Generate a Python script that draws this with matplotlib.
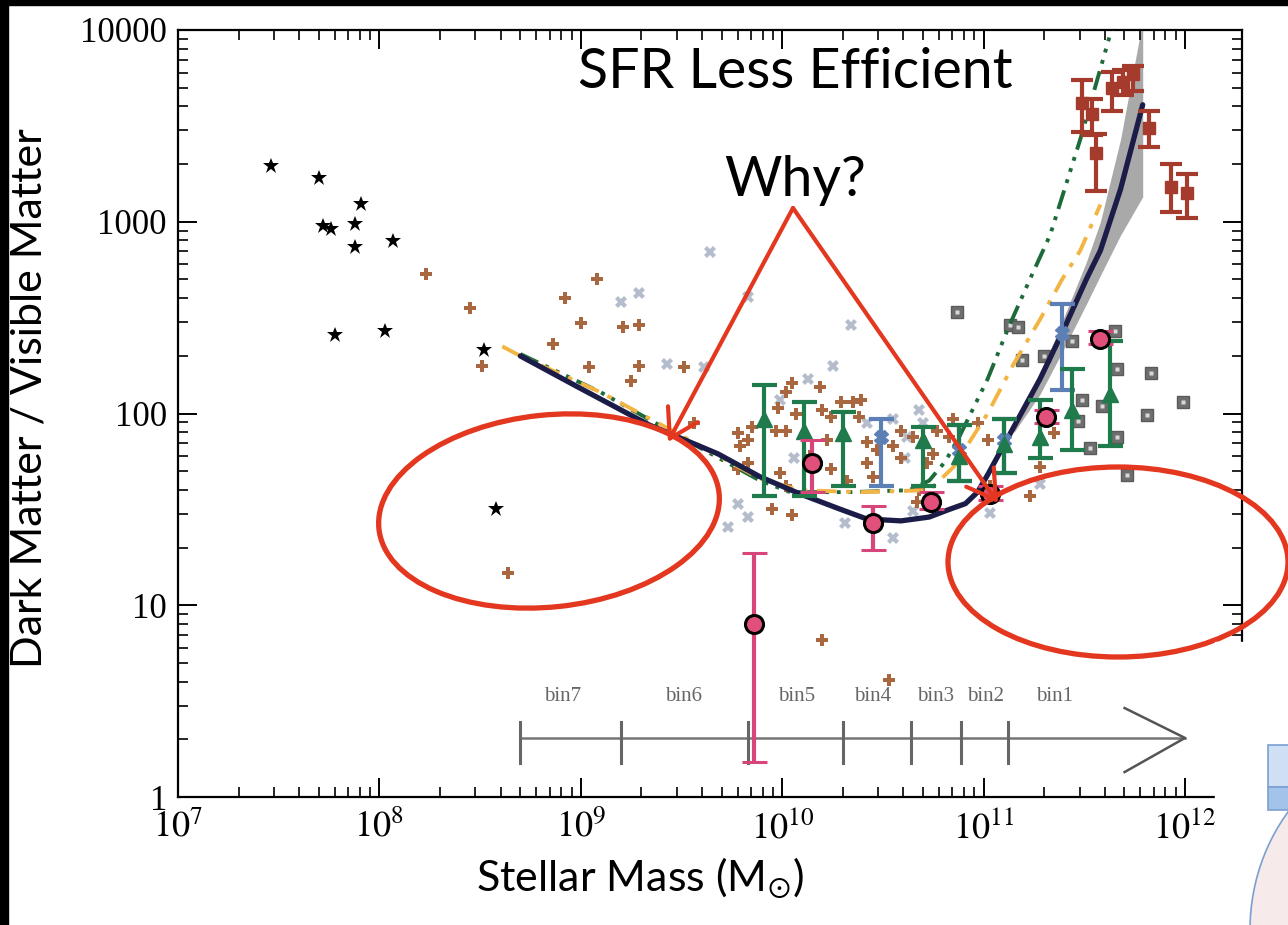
import numpy as np
import matplotlib.pyplot as plt
from matplotlib.patches import Ellipse, Rectangle, FancyArrowPatch
from matplotlib.transforms import Affine2D
from matplotlib.ticker import FixedLocator, LogLocator, FuncFormatter, NullFormatter

W, H = 1288, 925
plt.rcParams['mathtext.fontset'] = 'stix'

# all values are log10(stellar mass / Msun) and log10(dark / visible)
dwarf_m = [7.46, 7.70, 7.72, 7.76, 7.88, 7.91, 7.88, 8.07, 7.78, 8.03, 8.52, 8.58]
dwarf_r = [3.29, 3.23, 2.98, 2.96, 2.99, 3.09, 2.87, 2.90, 2.41, 2.43, 2.33, 1.50]

spiral_m = [8.23, 8.45, 8.51, 8.64, 8.86, 8.92, 9.00, 9.08, 9.21, 9.29, 9.04, 9.29, 9.25,
            9.51, 9.56, 10.20, 10.53, 9.78, 9.79, 9.83, 9.85, 9.83, 9.78, 9.97, 10.02,
            9.98, 10.02, 10.05, 10.07, 10.19, 10.20, 10.24, 10.29, 10.35, 10.38, 10.39,
            10.42, 10.47, 10.42, 10.45, 10.55, 10.59, 10.65, 10.75, 10.77, 10.85, 10.83,
            10.97, 11.02, 9.99, 10.02, 9.95, 10.05, 10.22, 10.24, 10.32, 10.68, 10.72,
            10.59, 10.67, 11.28, 11.35, 11.03, 11.23, 10.14]
spiral_r = [2.73, 2.55, 2.25, 1.17, 2.36, 2.60, 2.47, 2.70, 2.45, 2.46, 2.24, 2.25, 2.17,
            2.24, 1.95, 0.82, 0.61, 1.90, 1.83, 1.86, 1.93, 1.74, 1.71, 1.91, 1.91,
            2.03, 2.11, 2.16, 2.00, 2.14, 2.02, 1.98, 2.06, 2.06, 1.98, 2.07,
            1.85, 1.81, 1.74, 1.67, 1.83, 1.77, 1.88, 1.79, 1.91, 1.97, 1.88,
            1.95, 1.86, 1.69, 1.62, 1.50, 1.47, 1.86, 1.71, 1.65, 1.60, 1.74,
            1.91, 1.54, 1.72, 1.90, 1.62, 1.57, 1.78]

lens_m = [9.20, 9.29, 9.64, 9.43, 9.61, 9.83, 10.34, 10.25, 10.13, 9.99, 9.78, 9.83, 9.73,
          10.06, 10.55, 10.42, 10.68, 10.70, 10.55, 10.31, 10.65, 10.62, 10.61, 11.03, 11.28]
lens_r = [2.58, 2.63, 2.84, 2.26, 2.24, 2.61, 2.46, 2.25, 2.18, 2.07, 1.53, 1.46, 1.41,
          1.77, 1.35, 1.95, 2.02, 1.95, 1.97, 1.43, 1.49, 1.88, 1.77, 1.48, 1.63]

group_m = [10.87, 11.13, 11.17, 11.19, 11.30, 11.44, 11.65, 11.66, 11.83, 11.99, 11.81,
           11.59, 11.49, 11.47, 11.66, 11.53, 11.71]
group_r = [2.53, 2.46, 2.45, 2.28, 2.30, 2.38, 2.43, 2.23, 2.21, 2.06, 1.99,
           2.04, 2.07, 1.96, 1.88, 1.82, 1.68]

# stacked bins: value, upper, lower
wl_m = [9.91, 10.11, 10.30, 10.70, 10.88, 11.10, 11.28, 11.44, 11.63]
wl_r = [1.97, 1.91, 1.90, 1.86, 1.78, 1.84, 1.88, 2.02, 2.10]
wl_hi = [2.15, 2.06, 2.01, 1.93, 1.94, 1.97, 2.07, 2.23, 2.38]
wl_lo = [1.57, 1.57, 1.62, 1.62, 1.65, 1.69, 1.77, 1.81, 1.83]

sat_m = [10.49, 10.88, 11.10, 11.39]
sat_r = [1.88, 1.81, 1.86, 2.42]
sat_hi = [1.97, 1.94, 1.97, 2.57]
sat_lo = [1.62, 1.65, 1.69, 2.12]

bin_m = [10.15, 10.45, 10.74, 9.86, 11.03, 11.31, 11.58]
bin_r = [1.74, 1.43, 1.54, 0.90, 1.58, 1.98, 2.39]
bin_hi = [1.86, 1.52, 1.59, 1.27, 1.62, 2.02, 2.43]
bin_lo = [1.59, 1.29, 1.50, 0.18, 1.55, 1.95, 2.36]

cluster_m = [11.49, 11.54, 11.56, 11.64, 11.69, 11.74, 11.82, 11.93, 12.01]
cluster_r = [3.62, 3.56, 3.36, 3.70, 3.73, 3.77, 3.49, 3.18, 3.15]
cluster_hi = [3.74, 3.64, 3.46, 3.78, 3.79, 3.81, 3.58, 3.30, 3.25]
cluster_lo = [3.47, 3.45, 3.16, 3.58, 3.66, 3.68, 3.39, 3.05, 3.02]

# model curves
model_m = [8.70, 9.00, 9.34, 9.68, 9.89, 10.09, 10.29, 10.42, 10.59, 10.73, 10.83, 10.91,
           10.97, 11.02, 11.15, 11.28, 11.39, 11.51, 11.58, 11.68, 11.79]
model_r = [2.30, 2.13, 1.94, 1.79, 1.67, 1.58, 1.50, 1.45, 1.44, 1.46, 1.50, 1.53,
           1.59, 1.68, 1.93, 2.18, 2.42, 2.70, 2.85, 3.17, 3.61]
band_m = [11.15, 11.28, 11.39, 11.51, 11.58, 11.68, 11.79]
band_hi = [1.94, 2.20, 2.48, 2.79, 3.00, 3.43, 4.05]
band_lo = [1.90, 2.10, 2.32, 2.57, 2.72, 2.93, 3.13]

abm_m = [8.70, 9.10, 9.49, 9.89, 10.04, 10.34, 10.63, 10.73, 10.81, 10.88, 11.02,
         11.12, 11.23, 11.33, 11.48, 11.64]
abm_r = [2.31, 2.11, 1.88, 1.65, 1.59, 1.59, 1.60, 1.65, 1.75, 1.88, 2.18,
         2.44, 2.70, 2.93, 3.43, 4.02]

hod_m = [8.61, 8.70, 9.10, 9.49, 9.89, 10.09, 10.39, 10.73, 10.85, 11.02, 11.15,
         11.28, 11.39, 11.48, 11.58]
hod_r = [2.35, 2.30, 2.11, 1.89, 1.66, 1.60, 1.59, 1.60, 1.72, 2.00, 2.26,
         2.49, 2.70, 2.85, 3.09]

bin_edges = [8.70, 9.20, 9.83, 10.30, 10.64, 10.89, 11.12]
bin_names = ['bin7', 'bin6', 'bin5', 'bin4', 'bin3', 'bin2', 'bin1']
bin_label_m = [8.91, 9.51, 10.07, 10.45, 10.76, 11.01, 11.35]


def lin(v):
    return 10 ** np.asarray(v, dtype=float)


def errs(v, hi, lo):
    return [lin(v) - lin(lo), lin(hi) - lin(v)]


fig = plt.figure(figsize=(W / 100, H / 100), dpi=100)
fig.patch.set_facecolor('white')
# pixel coordinates, origin top left
px = Affine2D().scale(1.0 / W, -1.0 / H).translate(0, 1) + fig.transFigure

ax = fig.add_axes([178 / W, 1 - 797 / H, (1242 - 178) / W, (797 - 30) / H])
ax.set_xscale('log')
ax.set_yscale('log')
ax.set_xlim(1e7, 10 ** 12.283)
ax.set_ylim(1, 1e4)

ax.fill_between(lin(band_m), lin(band_lo), lin(band_hi), color='#a9a9a9', lw=0, zorder=1)

ax.plot(lin(lens_m), lin(lens_r), 'X', ms=9, color='#b5bdcc', mew=0, zorder=2)
ax.plot(lin(spiral_m), lin(spiral_r), 'P', ms=9, color='#a8673f', mew=0, zorder=2)
ax.plot(lin(group_m), lin(group_r), 's', ms=8.5, mfc='#6e6e6e', mec='#5a5a5a', zorder=2)
ax.plot(lin(group_m), lin(group_r), 's', ms=2.5, mfc='#d8d8d8', mec='none', zorder=2)
ax.plot(lin(dwarf_m), lin(dwarf_r), '*', ms=12, color='black', mew=0, zorder=2)

ax.plot(lin(abm_m), lin(abm_r), color='#1d6b3a', lw=2.8,
        ls=(0, (5, 2, 1, 2, 1, 2, 1, 2)), zorder=3)
ax.plot(lin(hod_m), lin(hod_r), color='#f2b544', lw=2.8,
        ls=(0, (5, 2.5, 1.2, 2.5)), zorder=3)
ax.plot(lin(model_m), lin(model_r), color='#1c1c48', lw=3.8, zorder=3,
        solid_capstyle='round', solid_joinstyle='round')

ax.errorbar(lin(sat_m), lin(sat_r), yerr=errs(sat_r, sat_hi, sat_lo), fmt='X', ms=10,
            color='#5c7fb6', ecolor='#5c7fb6', elinewidth=3, capsize=9, capthick=3, zorder=4)
ax.errorbar(lin(wl_m), lin(wl_r), yerr=errs(wl_r, wl_hi, wl_lo), fmt='^', ms=11,
            color='#1f7a4c', ecolor='#1f7a4c', elinewidth=3, capsize=9, capthick=3, zorder=4)
ax.errorbar(lin(cluster_m), lin(cluster_r), yerr=errs(cluster_r, cluster_hi, cluster_lo),
            fmt='s', ms=8, color='#a53b2c', ecolor='#a53b2c', elinewidth=3, capsize=8,
            capthick=3, zorder=4)
ax.errorbar(lin(bin_m), lin(bin_r), yerr=errs(bin_r, bin_hi, bin_lo), fmt='o', ms=13,
            mfc='#e0507a', mec='black', mew=2.2, ecolor='#d8457a', elinewidth=3,
            capsize=9, capthick=3, zorder=5)

# mass bins along the bottom
axis_y = 10 ** 0.308
ax.plot([lin(bin_edges[0]), 1e12], [axis_y, axis_y], color='#757575', lw=1.8, zorder=3)
for e in bin_edges:
    ax.plot([lin(e), lin(e)], [10 ** 0.177, 10 ** 0.391], color='#666666', lw=2.2, zorder=3)
ax.plot([10 ** 11.70, 1e12, 10 ** 11.70], [10 ** 0.464, axis_y, 10 ** 0.130],
        color='#555555', lw=1.8, zorder=3)
for name, m in zip(bin_names, bin_label_m):
    ax.text(lin(m), 10 ** 0.522, name, ha='center', va='center', fontsize=15,
            family='Liberation Serif', color='#666666')

ax.xaxis.set_major_locator(FixedLocator([1e7, 1e8, 1e9, 1e10, 1e11, 1e12]))
ax.xaxis.set_major_formatter(FuncFormatter(lambda v, p: r'$10^{%d}$' % round(np.log10(v))))
ax.yaxis.set_major_locator(FixedLocator([1, 10, 100, 1000, 10000]))
ax.yaxis.set_major_formatter(FuncFormatter(lambda v, p: '%d' % round(v)))
for a in (ax.xaxis, ax.yaxis):
    a.set_minor_locator(LogLocator(base=10, subs=np.arange(2, 10)))
    a.set_minor_formatter(NullFormatter())
ax.tick_params(which='both', direction='in', top=True, right=True, colors='black')
ax.tick_params(which='major', length=14, width=1.4)
ax.tick_params(which='minor', length=7, width=1.2)
ax.tick_params(axis='y', labelsize=25, pad=8)
ax.tick_params(axis='x', labelsize=26, pad=9)
for lab in ax.get_yticklabels():
    lab.set_family('Liberation Serif')
for s in ax.spines.values():
    s.set_linewidth(1.6)

fig.text(30, 398, 'Dark Matter / Visible Matter', transform=px, rotation=90,
         ha='center', va='center', fontsize=31, family='Lato')
fig.text(640, 878, r'Stellar Mass (M$_{\odot}$)', transform=px,
         ha='center', va='center', fontsize=31, family='Lato')
fig.text(795, 72, 'SFR Less Efficient', transform=px, ha='center', va='center',
         fontsize=40, family='Lato')
fig.text(795, 180, 'Why?', transform=px, ha='center', va='center',
         fontsize=40, family='Lato')

red = '#e3371f'
for end in [(668, 442), (998, 503)]:
    fig.add_artist(FancyArrowPatch((793, 208), end, transform=px,
                                   arrowstyle='->,head_length=0.9,head_width=0.55',
                                   mutation_scale=22, lw=3.0, color=red,
                                   shrinkA=0, shrinkB=0, zorder=6))
fig.add_artist(Ellipse((549, 511), 342, 192, angle=-6, transform=px, fill=False,
                       ec=red, lw=3.8, zorder=6))
fig.add_artist(Ellipse((1118, 562), 340, 190, angle=0, transform=px, fill=False,
                       ec=red, lw=3.8, zorder=6))

# slide frame edges and the overlapping panel in the corner
fig.add_artist(Rectangle((0, 0), W, 5, transform=px, color='black', zorder=8))
fig.add_artist(Rectangle((0, 0), 8, H, transform=px, color='black', zorder=8))
fig.add_artist(Rectangle((1215, 642), W - 1215, H - 642, transform=px,
                         color='white', zorder=8))
fig.add_artist(Ellipse((1430, 930), 360, 384, transform=px, fc='#f6eaea',
                       ec='#7c9fd2', lw=1.2, zorder=9))
fig.add_artist(Rectangle((1268, 745), 30, 42, transform=px, fc='#cfe0f5',
                         ec='#7c9fd2', lw=1.2, zorder=9))
fig.add_artist(Rectangle((1268, 787), 30, 23, transform=px, fc='#a4c3ea',
                         ec='#7c9fd2', lw=1.2, zorder=9))

fig.savefig('out.png', dpi=100, facecolor='white')
